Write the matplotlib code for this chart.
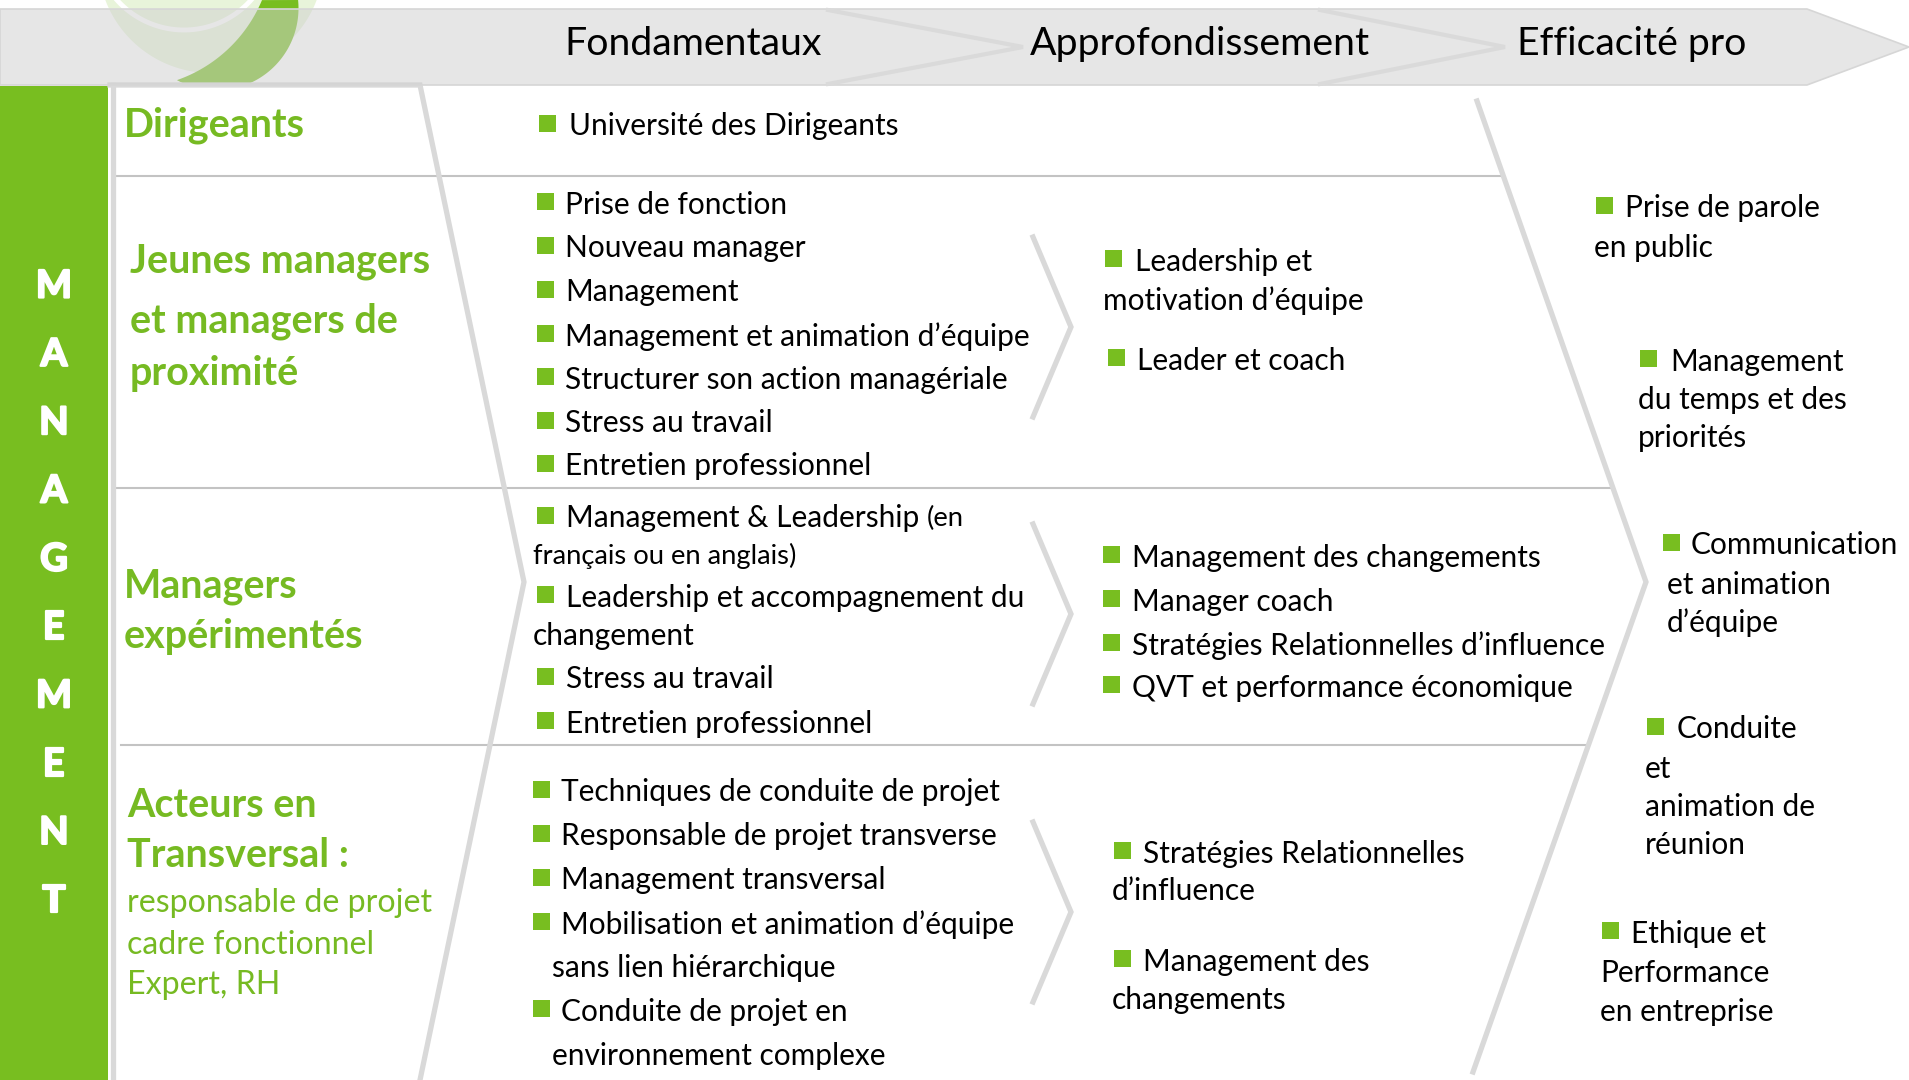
import matplotlib
matplotlib.use("Agg")
import matplotlib.pyplot as plt
from matplotlib.patches import Polygon, Rectangle
import matplotlib.patheffects as pe
import numpy as np

# ---------------- content ----------------
STAGES = ["Fondamentaux", "Approfondissement", "Efficacité pro"]
SIDE_LABEL = "MANAGEMENT"
AUDIENCE_TITLES = ["Dirigeants",
                   "Jeunes managers\net managers de\nproximité",
                   "Managers\nexpérimentés",
                   "Acteurs en\nTransversal :"]
AUDIENCE_NOTE = "responsable de projet\ncadre fonctionnel\nExpert, RH"

FOND_DIRIGEANTS = ["Université des Dirigeants"]
FOND_JEUNES = ["Prise de fonction", "Nouveau manager", "Management",
               "Management et animation d’équipe",
               "Structurer son action managériale",
               "Stress au travail", "Entretien professionnel"]
FOND_EXP = ["Management & Leadership",
            "Leadership et accompagnement du\nchangement",
            "Stress au travail", "Entretien professionnel"]
FOND_EXP_NOTE = ["(en", "français ou en anglais)"]
FOND_TRANSV = ["Techniques de conduite de projet",
               "Responsable de projet transverse",
               "Management transversal",
               "Mobilisation et animation d’équipe\nsans lien hiérarchique",
               "Conduite de projet en\nenvironnement complexe"]
APPRO_JEUNES = ["Leadership et\nmotivation d’équipe", "Leader et coach"]
APPRO_EXP = ["Management des changements", "Manager coach",
             "Stratégies Relationnelles d’influence",
             "QVT et performance économique"]
APPRO_TRANSV = ["Stratégies Relationnelles\nd’influence",
                "Management des\nchangements"]
EFFICACITE = ["Prise de parole\nen public",
              "Management\ndu temps et des\npriorités",
              "Communication\net animation\nd’équipe",
              "Conduite\net\nanimation de\nréunion",
              "Ethique et\nPerformance\nen entreprise"]

# ---------------- layout (pixels) ----------------
W, H = 1909, 1080
FONT = ["Lato", "DejaVu Sans"]
GREEN = "#78BE20"
LABEL_GREEN = "#76BA22"
LINE_GRAY = "#D9D9D9"
SEP_GRAY = "#C3C3C3"
DY = 2.5  # vertical text offset

STAGE_X = [693, 1200, 1632]
STAGE_Y = 44
SIDE_Y0, SIDE_DY = 286.5, 68.3
TITLE_POS = [(124, [123]), (130, [259, 319, 371]), (124, [584, 634]), (127, [803, 853])]
NOTE_POS = (127, [901, 942, 983])

# (bullet_x, text_x, continuation_x, [line ys])
L_FOND_DIR = [(539, 569, 569, [124])]
L_FOND_JEUNES = [(537, 565, 565, [y]) for y in [202, 246, 290, 334, 377, 421, 464]]
L_FOND_EXP = [(537, 566, 533, [516]), (537, 566, 533, [595, 633]),
              (537, 566, 533, [677]), (537, 566, 533, [721])]
FOND_EXP_NOTE_POS = (533, 553)
L_FOND_TRANSV = [(533, 561, 552, [790]), (533, 561, 552, [834]), (533, 561, 552, [878]),
                 (533, 561, 552, [922, 965]), (533, 561, 552, [1009, 1053])]
L_APPRO_JEUNES = [(1105, 1135, 1103, [259, 298]), (1108, 1137, 1137, [358])]
L_APPRO_EXP = [(1103, 1132, 1132, [y]) for y in [555, 599, 643, 685]]
L_APPRO_TRANSV = [(1114, 1143, 1112, [851, 889]), (1114, 1143, 1112, [959, 997])]
L_EFFIC = [(1596, 1625, 1594, [206, 245]), (1640, 1670, 1638, [359, 397, 435]),
           (1663, 1691, 1667, [543, 582, 620]), (1647, 1677, 1645, [727, 766, 805, 843]),
           (1602, 1631, 1600, [931, 970, 1009])]

fig = plt.figure(figsize=(W / 100, H / 100), dpi=100)
ax = fig.add_axes([0, 0, 1, 1])
ax.set_xlim(0, W)
ax.set_ylim(H, 0)
ax.axis("off")
renderer = fig.canvas.get_renderer()


def fit(s, target, weight="normal"):
    t = ax.text(0, 0, s, fontsize=20, family=FONT, fontweight=weight)
    w = t.get_window_extent(renderer).width
    t.remove()
    return 20 * target / w


S_HEAD = fit("Fondamentaux", 258)
S_BODY = fit("Management et animation d’équipe", 465)
S_TITLE = fit("Jeunes managers", 300, "bold")
S_NOTE = fit("responsable de projet", 306)
S_SMALL = fit("français ou en anglais)", 264)
S_SIDE = fit("M", 36, "bold")


def arc(cx, cy, r, a0, a1, n=80):
    t = np.radians(np.linspace(a0, a1, n))
    return np.column_stack([cx + r * np.cos(t), cy + r * np.sin(t)])


# ---------------- logo (under translucent banner) ----------------
clip = Rectangle((0, 0), 400, 83, transform=ax.transData)
th = np.linspace(0, 2 * np.pi, 200)
p1 = ax.add_patch(Polygon(np.column_stack([211 + 113 * np.cos(th), -40 + 113 * np.sin(th)]),
                          closed=True, fc="#E8F4DA", ec="none", zorder=1))
p1.set_clip_path(clip)
wa = arc(184, -60, 90, 0, 180)
l1, = ax.plot(wa[:, 0], wa[:, 1], color="white", lw=3.5, zorder=1.5)
l1.set_clip_path(clip)
cres = np.vstack([arc(216.5, 8.3, 82, -5.8, 118.8), arc(129.8, -55.2, 143.3, 70.8, 22.7)])
p2 = ax.add_patch(Polygon(cres, closed=True, fc=GREEN, ec="none", zorder=2))
p2.set_clip_path(clip)

# ---------------- banner ----------------
banner = [(0, 9), (1807, 9), (1909, 47), (1807, 85), (0, 85)]
ax.add_patch(Polygon(banner, closed=True, fc="#D0D0D0", alpha=0.52, ec="none", zorder=3))
ax.add_patch(Polygon(banner, closed=True, fc="none", ec="#D6D6D6", lw=1.2, zorder=3.1))
for x0, xt in [(828, 1023), (1320, 1505)]:
    ax.plot([x0, xt, x0], [10, 47, 84], color="#DADADA", lw=3, solid_joinstyle="miter", zorder=3.2)
for s, x in zip(STAGES, STAGE_X):
    ax.text(x, STAGE_Y, s, fontsize=S_HEAD, family=FONT, ha="center", va="center",
            color="black", zorder=4)

# ---------------- side bar ----------------
ax.add_patch(Rectangle((0, 86), 108, H - 86, fc=GREEN, ec="none", zorder=2))
for i, ch in enumerate(SIDE_LABEL):
    ax.text(54, SIDE_Y0 + i * SIDE_DY, ch, fontsize=S_SIDE, family=FONT, fontweight="bold",
            color="white", ha="center", va="center", zorder=4,
            path_effects=[pe.withStroke(linewidth=1.6, foreground="white")])

# ---------------- structure lines ----------------
ax.plot([112.5, 112.5], [85, H], color=LINE_GRAY, lw=3.8, zorder=2)
ax.plot([110, 420, 524, 420], [85, 85, 582, 1080], color=LINE_GRAY, lw=3.8,
        solid_joinstyle="miter", zorder=2)
big = [(1477, 101), (1646, 582), (1473, 1072)]
ax.plot([p[0] for p in big], [p[1] for p in big], color=LINE_GRAY, lw=3.8,
        solid_joinstyle="miter", zorder=2)
for top in [237, 524, 822]:
    ax.plot([1033, 1071, 1033], [top, top + 90, top + 180], color=LINE_GRAY, lw=3.8,
            solid_joinstyle="miter", zorder=2)


def x_on_big(y):
    (x0, y0), (x1, y1), (x2, y2) = big
    if y <= y1:
        return x0 + (y - y0) * (x1 - x0) / (y1 - y0)
    return x1 + (y - y1) * (x2 - x1) / (y2 - y1)


for y, xs in [(176, 114), (488, 115), (745, 121)]:
    ax.plot([xs, x_on_big(y)], [y, y], color=SEP_GRAY, lw=1.5, zorder=1.8)

# ---------------- audience titles ----------------
for title, (x, ys) in zip(AUDIENCE_TITLES, TITLE_POS):
    for line, y in zip(title.split("\n"), ys):
        ax.text(x, y + DY, line, fontsize=S_TITLE, family=FONT, fontweight="bold",
                color=LABEL_GREEN, ha="left", va="center", zorder=4)
for line, y in zip(AUDIENCE_NOTE.split("\n"), NOTE_POS[1]):
    ax.text(NOTE_POS[0], y + DY, line, fontsize=S_NOTE, family=FONT, color=LABEL_GREEN,
            ha="left", va="center", zorder=4)


# ---------------- bulleted blocks ----------------
def block(items, layout):
    texts = []
    for item, (bx, tx, cx, ys) in zip(items, layout):
        lines = item.split("\n")
        ax.add_patch(Rectangle((bx, ys[0] + DY - 3 - 8.5), 17, 17, fc=GREEN, ec="none", zorder=4))
        for k, (line, y) in enumerate(zip(lines, ys)):
            t = ax.text(tx if k == 0 else cx, y + DY, line, fontsize=S_BODY, family=FONT,
                        color="black", ha="left", va="center", zorder=4)
            texts.append(t)
    return texts


block(FOND_DIRIGEANTS, L_FOND_DIR)
block(FOND_JEUNES, L_FOND_JEUNES)
exp_texts = block(FOND_EXP, L_FOND_EXP)
block(FOND_TRANSV, L_FOND_TRANSV)
block(APPRO_JEUNES, L_APPRO_JEUNES)
block(APPRO_EXP, L_APPRO_EXP)
block(APPRO_TRANSV, L_APPRO_TRANSV)
block(EFFICACITE, L_EFFIC)

# small note appended to "Management & Leadership"
bb = exp_texts[0].get_window_extent(renderer)
space = 0.25 * S_BODY * 100 / 72
ax.text(bb.x1 + space, L_FOND_EXP[0][3][0] + DY, FOND_EXP_NOTE[0], fontsize=S_SMALL, family=FONT,
        color="black", ha="left", va="center", zorder=4)
ax.text(FOND_EXP_NOTE_POS[0], FOND_EXP_NOTE_POS[1] + DY, FOND_EXP_NOTE[1], fontsize=S_SMALL,
        family=FONT, color="black", ha="left", va="center", zorder=4)

fig.savefig("out.png", dpi=100, facecolor="white")
